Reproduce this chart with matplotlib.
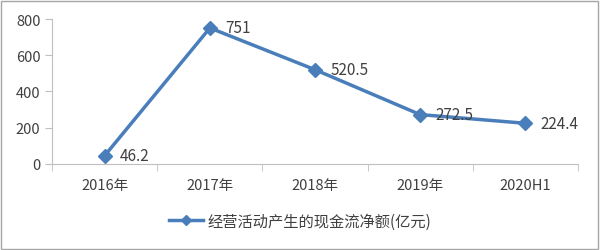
import matplotlib
matplotlib.use("Agg")
import matplotlib.pyplot as plt
from matplotlib.lines import Line2D
import numpy as np

plt.rcParams['font.family'] = ['Noto Sans CJK SC', 'DejaVu Sans']

categories = ['2016年', '2017年', '2018年', '2019年', '2020H1']
values = [46.2, 751, 520.5, 272.5, 224.4]
value_labels = ['46.2', '751', '520.5', '272.5', '224.4']
series_name = '经营活动产生的现金流净额(亿元)'

line_color = '#4a7ebb'
text_color = '#404040'
axis_color = '#bfbfbf'

fig = plt.figure(figsize=(6, 2.51), dpi=100)
ax = fig.add_axes([0.087, 0.343, 0.876, 0.577])

x = np.arange(len(categories))
ax.plot(x, values, color=line_color, linewidth=2.5, marker='D', markersize=7)

for xi, v, lab in zip(x, values, value_labels):
    ax.annotate(lab, (xi, v), xytext=(11, 0), textcoords='offset points',
                va='center', ha='left', fontsize=11, color=text_color)

ax.set_xlim(-0.5, len(categories) - 0.5)
ax.set_ylim(0, 800)
ax.set_yticks([0, 200, 400, 600, 800])
ax.set_xticks(x)
ax.set_xticklabels(categories)
ax.set_xticks(np.arange(-0.5, len(categories)), minor=True)
ax.tick_params(axis='x', which='major', length=0, pad=10, labelsize=10.5, colors=text_color)
ax.tick_params(axis='x', which='minor', length=5, color=axis_color)
ax.tick_params(axis='y', length=5, color=axis_color, labelsize=10.5, labelcolor=text_color)

for side in ['top', 'right']:
    ax.spines[side].set_visible(False)
for side in ['left', 'bottom']:
    ax.spines[side].set_color(axis_color)

handle = Line2D([], [], color=line_color, linewidth=2.5, marker='D', markersize=5)
fig.legend([handle], [series_name], loc='center', bbox_to_anchor=(0.5, 0.115),
           frameon=False, fontsize=11, handlelength=2.2, handletextpad=0.3,
           labelcolor=text_color)

border = plt.Rectangle((0.002, 0.004), 0.995, 0.99, transform=fig.transFigure,
                       fill=False, edgecolor='#a6a6a6', linewidth=1)
fig.patches.append(border)

fig.savefig('out.png', dpi=100)
